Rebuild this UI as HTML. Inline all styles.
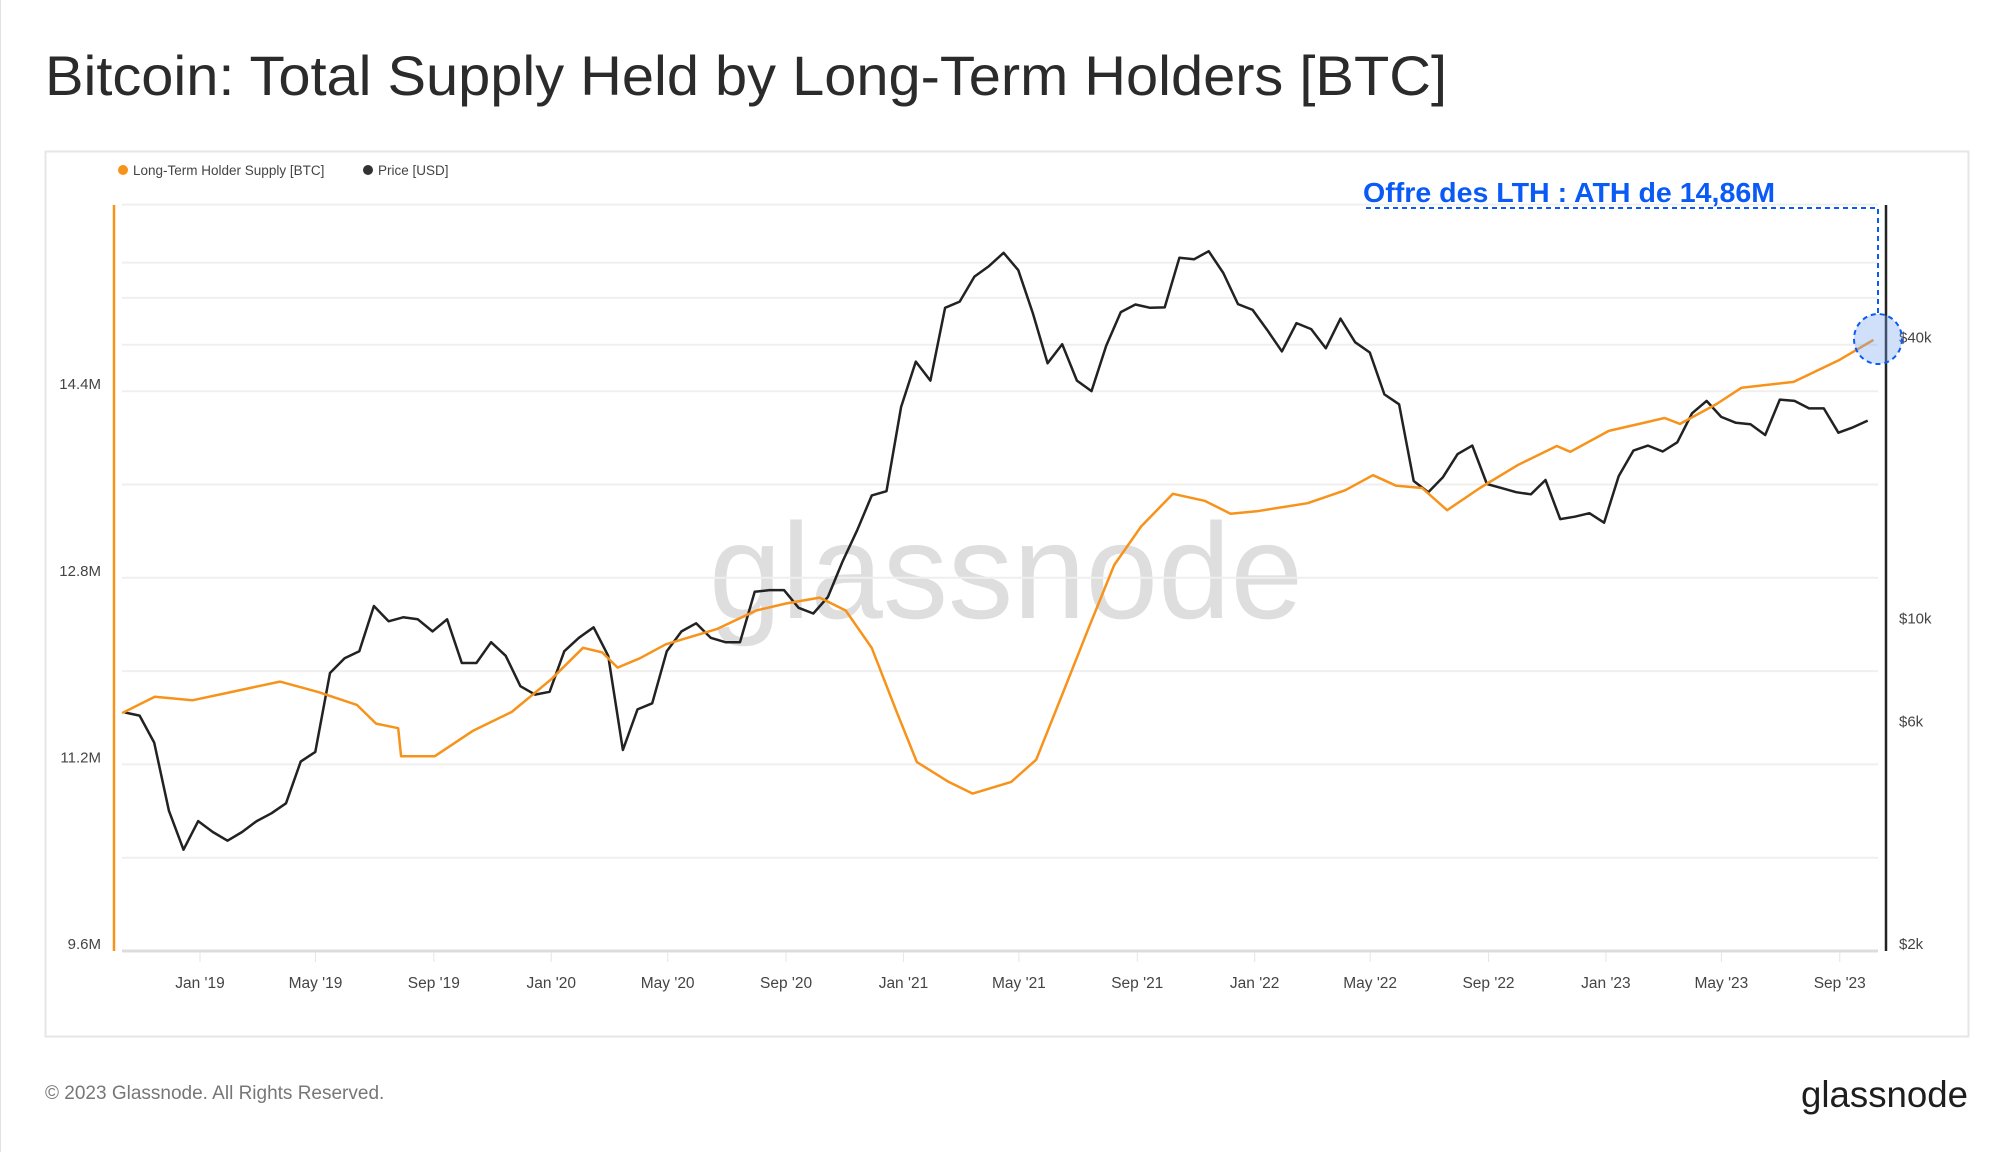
<!DOCTYPE html>
<html><head><meta charset="utf-8"><style>
html,body{margin:0;padding:0;background:#fff;}
svg{display:block;font-family:"Liberation Sans",sans-serif;}
</style></head><body>
<svg id="chart" width="2000" height="1152" viewBox="0 0 2000 1152">
<rect x="0" y="0" width="2000" height="1152" fill="#fff"/>
<line x1="0.5" y1="0" x2="0.5" y2="1152" stroke="#e2e2e2"/>
<text x="45" y="95" font-size="56" fill="#2b2b2b" textLength="1402" lengthAdjust="spacingAndGlyphs">Bitcoin: Total Supply Held by Long-Term Holders [BTC]</text>
<rect x="45.5" y="151.5" width="1923" height="885" fill="none" stroke="#e6e6e6" stroke-width="2"/>
<g>
<circle cx="123" cy="170" r="5" fill="#f7931a"/>
<text x="133" y="175" font-size="13.5" fill="#444">Long-Term Holder Supply [BTC]</text>
<circle cx="368" cy="170" r="5" fill="#333"/>
<text x="378" y="175" font-size="13.5" fill="#444">Price [USD]</text>
</g>
<text x="1006" y="618" font-size="136" fill="#dedede" text-anchor="middle" textLength="594" lengthAdjust="spacingAndGlyphs">glassnode</text>
<g id="grid"></g>
<g id="axes"></g>
<g id="series"></g>
<g>
<text x="1363" y="202" font-size="28" font-weight="bold" fill="#0a5af5" textLength="412" lengthAdjust="spacingAndGlyphs">Offre des LTH : ATH de 14,86M</text>
<polyline points="1366,208 1878,208 1878,314" fill="none" stroke="#0a5af5" stroke-width="2" stroke-dasharray="5,4"/>
<ellipse cx="1878" cy="339" rx="24" ry="25" fill="rgba(120,165,240,0.35)" stroke="#0a5af5" stroke-width="2" stroke-dasharray="5,4"/>
</g>
<text x="45" y="1099" font-size="19" fill="#777">© 2023 Glassnode. All Rights Reserved.</text>
<text x="1968" y="1107" font-size="37" fill="#1e1e1e" text-anchor="end" textLength="167" lengthAdjust="spacingAndGlyphs">glassnode</text>
</svg>
<script>
const lthDates = ["2018-10-12","2018-11-15","2018-12-24","2019-02-02","2019-03-25","2019-05-04","2019-06-13","2019-07-03","2019-07-26","2019-07-29","2019-09-02","2019-10-12","2019-11-21","2020-01-01","2020-02-03","2020-02-23","2020-03-10","2020-04-02","2020-04-29","2020-06-21","2020-08-01","2020-09-01","2020-10-06","2020-11-02","2020-11-29","2020-12-25","2021-01-15","2021-02-17","2021-03-14","2021-04-23","2021-05-19","2021-06-16","2021-07-12","2021-08-08","2021-09-05","2021-10-08","2021-11-10","2021-12-07","2022-01-03","2022-02-25","2022-04-05","2022-05-04","2022-05-28","2022-06-24","2022-07-20","2022-08-23","2022-10-02","2022-11-11","2022-11-25","2023-01-04","2023-03-03","2023-03-19","2023-04-26","2023-05-22","2023-07-15","2023-09-01","2023-10-06"];
const lthValues = [11.64,11.78,11.75,11.82,11.91,11.82,11.71,11.55,11.51,11.27,11.27,11.49,11.65,11.93,12.2,12.16,12.03,12.11,12.23,12.36,12.52,12.58,12.63,12.52,12.2,11.65,11.22,11.05,10.95,11.05,11.24,11.82,12.36,12.91,13.24,13.52,13.46,13.35,13.37,13.44,13.55,13.68,13.59,13.57,13.38,13.57,13.77,13.93,13.88,14.06,14.17,14.12,14.29,14.43,14.48,14.67,14.84];
const priceStart = "2018-10-15";
const priceValues = [6500,6400,5600,4000,3300,3800,3600,3450,3600,3800,3950,4150,5100,5350,7900,8500,8800,11000,10200,10400,10300,9700,10300,8300,8300,9200,8600,7400,7100,7200,8800,9400,9900,8600,5400,6600,6800,8800,9700,10100,9400,9200,9200,11800,11900,11900,10900,10600,11500,13700,16000,19000,19400,29400,36800,33500,48000,49500,56000,59000,63000,57800,46700,36500,40100,33500,31800,39800,47000,48800,48000,48100,61500,61000,63500,57000,48900,47500,43000,38700,44500,43200,39300,45500,40500,38500,31300,29800,20400,19300,20800,23300,24300,20100,19700,19300,19100,20500,16900,17100,17400,16600,20900,23700,24300,23600,24700,28500,30300,28000,27200,27000,25600,30500,30300,29200,29200,25900,26600,27500];
const leftTicks = [9.6,11.2,12.8,14.4];
const leftTickLabels = ["9.6M","11.2M","12.8M","14.4M"];
const rightTicks = [2000,6000,10000,40000];
const rightTickLabels = ["$2k","$6k","$10k","$40k"];
const xTickDates = ["2019-01-01","2019-05-01","2019-09-01","2020-01-01","2020-05-01","2020-09-01","2021-01-01","2021-05-01","2021-09-01","2022-01-01","2022-05-01","2022-09-01","2023-01-01","2023-05-01","2023-09-01"];
const xTickLabels = ["Jan '19","May '19","Sep '19","Jan '20","May '20","Sep '20","Jan '21","May '21","Sep '21","Jan '22","May '22","Sep '22","Jan '23","May '23","Sep '23"];

const NS="http://www.w3.org/2000/svg";
const T0=Date.parse("2019-01-01");
function xScale(d){return 200+(Date.parse(d)-T0)/86400000*0.9623;}
function xScaleMs(ms){return 200+(ms-T0)/86400000*0.9623;}
function yLeft(v){return 951-(v-9.6)/0.8*93.3;}
function yRight(p){return 951-Math.log10(p/2000)*466;}
function mk(tag,attrs,parent){const e=document.createElementNS(NS,tag);for(const k in attrs)e.setAttribute(k,attrs[k]);parent.appendChild(e);return e;}
const grid=document.getElementById('grid'),axes=document.getElementById('axes'),series=document.getElementById('series');
for(let v=9.6;v<=16.01;v+=0.8){
 const g=mk('line',{x1:122,x2:1878,y1:yLeft(v),y2:yLeft(v),stroke:v<9.7?'#dcdcdc':'#efefef','stroke-width':v<9.7?3:2},grid);
 
 
}
[40000,60000].forEach(p=>{
 const g=mk('line',{x1:122,x2:1878,y1:yRight(p),y2:yRight(p),stroke:'#efefef','stroke-width':2},grid);
 
 
});
const la=mk('line',{x1:114,x2:114,y1:205,y2:951,stroke:'#f7931a','stroke-width':2.5},axes);


const ra=mk('line',{x1:1886,x2:1886,y1:205,y2:951,stroke:'#222','stroke-width':2.5},axes);


leftTicks.forEach((v,i)=>{
 const t=mk('text',{x:101,y:yLeft(v)-2,'font-size':15,fill:'#444','text-anchor':'end'},axes);
 t.textContent=leftTickLabels[i];
 
 
});
rightTicks.forEach((p,i)=>{
 const t=mk('text',{x:1899,y:yRight(p)-2,'font-size':15,fill:'#444'},axes);
 t.textContent=rightTickLabels[i];
 
 
});
xTickDates.forEach((d,i)=>{
 const x=xScale(d);
 const l=mk('line',{x1:x,x2:x,y1:952,y2:962,stroke:'#e6e6e6','stroke-width':1},axes);
 
 
 const t=mk('text',{x:x,y:988,'font-size':15.5,fill:'#444','text-anchor':'middle'},axes);
 t.textContent=xTickLabels[i];
 
 
});
const p0=Date.parse(priceStart);
const half=365.25/24*86400000;
const pricePts=priceValues.map((p,i)=>xScaleMs(p0+i*half).toFixed(1)+','+yRight(p).toFixed(1)).join(' ');
const pl=mk('polyline',{points:pricePts,fill:'none',stroke:'#222','stroke-width':2.5,'stroke-linejoin':'round'},series);


const lthPts=lthDates.map((d,i)=>xScale(d).toFixed(1)+','+yLeft(lthValues[i]).toFixed(1)).join(' ');
const ll=mk('polyline',{points:lthPts,fill:'none',stroke:'#f7931a','stroke-width':2.5,'stroke-linejoin':'round'},series);


</script>
</body></html>
